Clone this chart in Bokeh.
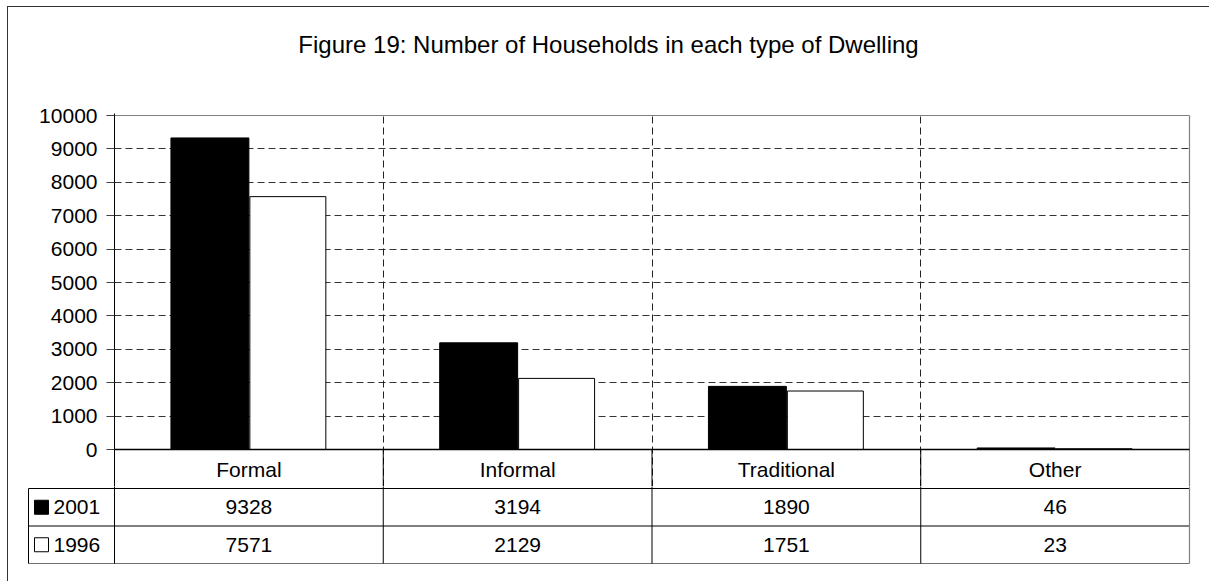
from bokeh.plotting import figure
from bokeh.layouts import column
from bokeh.models import Range1d, FixedTicker, Grid
from bokeh.core.properties import value
from bokeh.embed import file_html
from bokeh.resources import INLINE

# ---- data ----
categories = ["Formal", "Informal", "Traditional", "Other"]
series_names = ["2001", "1996"]
values_2001 = [9328, 3194, 1890, 46]
values_1996 = [7571, 2129, 1751, 23]
y_ticks = [0, 1000, 2000, 3000, 4000, 5000, 6000, 7000, 8000, 9000, 10000]
title_text = "Figure 19: Number of Households in each type of Dwelling"

FONT = "Liberation Sans"
FS = "21px"
CAT_PX = 268.75            # pixels per category
K = 334 / 10000            # pixels per household
ROW_PX = 37.5              # pixels per table row
n = len(categories)
centers = [i + 0.5 for i in range(n)]
bar_w = 0.29
ymax = y_ticks[-1]
W = 1201


def no_align(fig):
    if "frame_align" in fig.properties():
        fig.frame_align = False


def blank(fig):
    fig.outline_line_color = None
    fig.xgrid.visible = False
    fig.ygrid.visible = False
    fig.background_fill_color = "white"
    fig.border_fill_color = "white"


# ---- title strip ----
TH = 96
tt = figure(frame_width=W, frame_height=TH, x_range=Range1d(0, W), y_range=Range1d(0, TH),
            min_border=0, x_axis_location=None, y_axis_location=None,
            output_backend="svg", toolbar_location=None)
no_align(tt)
blank(tt)
tt.text(x=[600], y=[TH - 37], text=[title_text], text_align="center", text_baseline="alphabetic",
        text_font=value(FONT), text_font_size=value("24px"), text_color="black")

# ---- chart (plot area + category row) ----
y_end = ymax + 2 / K
y_start = ymax - (486 - 115) / K
p = figure(frame_width=1077, frame_height=373,
           x_range=Range1d(0, n + 2 / CAT_PX), y_range=Range1d(y_start, y_end),
           min_border_left=106, min_border_right=18, min_border_top=10, min_border_bottom=0,
           x_axis_location=None, output_backend="svg", toolbar_location=None)
no_align(p)
p.background_fill_color = "white"
p.border_fill_color = "white"
p.outline_line_color = None

ax = p.yaxis[0]
ax.ticker = FixedTicker(ticks=y_ticks)
ax.major_tick_out = 8
ax.major_tick_in = 0
ax.minor_tick_line_color = None
ax.major_tick_line_color = "#404040"
ax.axis_line_color = "black"
ax.major_label_text_font = FONT
ax.major_label_text_font_size = FS
ax.major_label_text_color = "black"
ax.major_label_standoff = 9

p.ygrid.ticker = FixedTicker(ticks=y_ticks[1:-1])
p.ygrid.grid_line_color = "#333333"
p.ygrid.grid_line_dash = "7 4"
p.ygrid.grid_line_width = 1
p.xgrid.visible = False
p.add_layout(Grid(dimension=0, ticker=FixedTicker(ticks=list(range(1, n))),
                  grid_line_color="#222222", grid_line_dash="7 4", grid_line_width=1))

p.vbar(x=[c - bar_w / 2 for c in centers], width=bar_w, top=values_2001, bottom=0,
       fill_color="black", line_color="black", line_width=1)
p.vbar(x=[c + bar_w / 2 for c in centers], width=bar_w * 0.975, top=values_1996, bottom=0,
       fill_color="white", line_color="black", line_width=1)

# plot-area frame: top & right grey, zero line black
p.segment(x0=[0], y0=[ymax], x1=[n], y1=[ymax], line_color="#808080", line_width=1.2)
p.segment(x0=[n], y0=[y_start], x1=[n], y1=[ymax], line_color="#808080", line_width=1.2)
p.segment(x0=[0], y0=[0], x1=[n], y1=[0], line_color="black", line_width=1.6)
# category row separators
p.segment(x0=list(range(1, n)), y0=[y_start] * (n - 1), x1=list(range(1, n)), y1=[0] * (n - 1),
          line_color="black", line_width=1)
cat_y = -19.5 / K
p.text(x=centers, y=[cat_y] * n, text=categories, text_align="center", text_baseline="middle",
       text_font=value(FONT), text_font_size=value(FS), text_color="black")

# ---- data table rows ----
x_left = (28 - 114) / CAT_PX
t = figure(frame_width=1165, frame_height=79,
           x_range=Range1d((26 - 114) / CAT_PX, (1191 - 114) / CAT_PX),
           y_range=Range1d(-2 / ROW_PX, (563 - 486) / ROW_PX),
           min_border_left=18, min_border_right=18, min_border_top=0, min_border_bottom=16,
           x_axis_location=None, y_axis_location=None,
           output_backend="svg", toolbar_location=None)
no_align(t)
blank(t)

t.segment(x0=[x_left, x_left], y0=[2, 1], x1=[n, n], y1=[2, 1], line_color="black", line_width=1)
t.segment(x0=[x_left], y0=[0], x1=[n], y1=[0], line_color="#707070", line_width=1.2)
t.segment(x0=[x_left], y0=[0], x1=[x_left], y1=[2], line_color="black", line_width=1)
t.segment(x0=list(range(n)), y0=[0] * n, x1=list(range(n)), y1=[3] * n, line_color="black", line_width=1)
t.segment(x0=[n], y0=[0], x1=[n], y1=[3], line_color="#808080", line_width=1.2)

t.text(x=centers, y=[1.5] * n, text=[str(v) for v in values_2001], text_align="center",
       text_baseline="middle", text_font=value(FONT), text_font_size=value(FS), text_color="black")
t.text(x=centers, y=[0.5] * n, text=[str(v) for v in values_1996], text_align="center",
       text_baseline="middle", text_font=value(FONT), text_font_size=value(FS), text_color="black")

key_x = (41 - 114) / CAT_PX
lab_x = (53 - 114) / CAT_PX
t.scatter(x=[key_x, key_x], y=[1.5, 0.5], marker="square", size=14,
          fill_color=["black", "white"], line_color="black", line_width=1)
t.text(x=[lab_x, lab_x], y=[1.5, 0.5], text=series_names, text_align="left", text_baseline="middle",
       text_font=value(FONT), text_font_size=value(FS), text_color="black")

layout = column(tt, p, t, spacing=0, margin=(6, 0, 0, 7),
                styles={"border-left": "1px solid #333333", "border-top": "1px solid #333333"})

open("out.html", "w").write(file_html(layout, INLINE))
